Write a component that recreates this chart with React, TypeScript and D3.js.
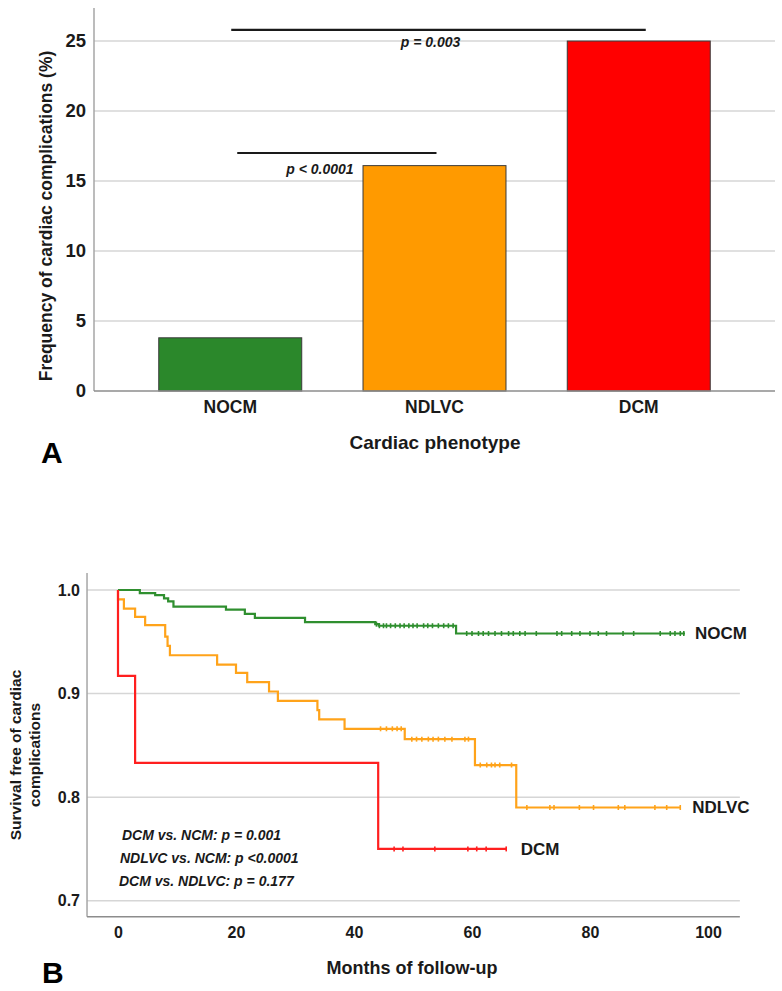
import { useEffect, useRef } from 'react';
import * as d3 from 'd3';

// Panel A: frequency of cardiac complications by phenotype
const phenotypes = ['NOCM', 'NDLVC', 'DCM'];
const frequencies = [3.8, 16.1, 25.0];
const barColors = ['#2b882b', '#ff9a00', '#ff0000'];
const freqTicks = [0, 5, 10, 15, 20, 25];
const bracketPairs: [string, string][] = [['NOCM', 'DCM'], ['NOCM', 'NDLVC']];
const bracketLevels = [25.8, 17.0];
const bracketLabels = ['p = 0.003', 'p < 0.0001'];

// Panel B: Kaplan-Meier steps [month, survival], last point = end of follow-up
const nocmSteps: [number, number][] = [
  [0, 1], [3.7, 0.997], [6.3, 0.995], [7.8, 0.992], [8.5, 0.989], [9.4, 0.984],
  [18.3, 0.981], [21.5, 0.977], [23.2, 0.973], [31.7, 0.969], [43.6, 0.967],
  [44.2, 0.9655], [57.3, 0.958], [96.1, 0.958],
];
const ndlvcSteps: [number, number][] = [
  [0, 1], [0, 0.991], [1.0, 0.982], [2.9, 0.974], [4.6, 0.966], [8.0, 0.955],
  [8.4, 0.946], [8.8, 0.937], [16.8, 0.928], [20.0, 0.92], [21.9, 0.911],
  [25.6, 0.902], [27.1, 0.893], [33.8, 0.884], [34.1, 0.875], [38.4, 0.866],
  [48.6, 0.856], [60.5, 0.831], [67.5, 0.79], [95.3, 0.79],
];
const dcmSteps: [number, number][] = [
  [0, 1], [0, 0.917], [2.9, 0.833], [44.1, 0.75], [65.9, 0.75],
];
const nocmCensored = [
  43.8, 44.3, 45, 45.5, 46.2, 47, 47.8, 48.5, 49.3, 50, 50.7, 51.8, 52.5, 53.3, 54.3,
  55.2, 56, 56.8, 59.1, 60.0, 61.1, 61.9, 62.8, 63.9, 65.0, 66.2, 67.0, 68.1, 69.0,
  70.9, 74.4, 75.2, 76.9, 78.3, 80.0, 81.4, 82.8, 85.6, 87.4, 91.9, 93.6, 94.4, 95.3, 95.9,
];
const ndlvcCensored = [
  44.5, 45.5, 46.5, 47.3, 48, 49.8, 50.6, 51.5, 52.6, 53.4, 54.3, 55.4, 56.6, 58.8, 59.4,
  61.4, 62.5, 63.3, 63.9, 64.7, 66.7, 69.3, 73.2, 73.9, 78.2, 80.6, 84.8, 85.9, 91.0, 93.0, 95.3,
];
const dcmCensored = [46.8, 48.3, 53.7, 59.3, 60.8, 62.4, 65.8];
const curveNames = ['NOCM', 'NDLVC', 'DCM'];
const curveColors = ['#2f8f2f', '#ffa31a', '#ff1f1f'];
const survTicks = [0.7, 0.8, 0.9, 1.0];
const monthTicks = [0, 20, 40, 60, 80, 100];
const pValueLines = [
  'DCM vs. NCM: p = 0.001',
  'NDLVC vs. NCM: p <0.0001',
  'DCM vs. NDLVC: p = 0.177',
];

const FONT = "'Liberation Sans', Arial, Helvetica, sans-serif";

export default function App() {
  const svgRef = useRef<SVGSVGElement>(null);

  useEffect(() => {
    if (!svgRef.current) return;
    const svg = d3.select(svgRef.current);
    svg.selectAll('*').remove();

    // ---------- Panel A ----------
    const gA = svg.append('g');
    const xA = d3.scaleBand<string>()
      .domain(phenotypes)
      .range([94, 775])
      .paddingInner(0.3)
      .paddingOuter(0.317);
    const yA = d3.scaleLinear().domain([0, 27.36]).range([391, 8]);

    // grid
    gA.append('g')
      .selectAll('line')
      .data(freqTicks.filter((t) => t > 0))
      .join('line')
      .attr('x1', 94).attr('x2', 775)
      .attr('y1', (d) => yA(d)).attr('y2', (d) => yA(d))
      .attr('stroke', '#d6d6d6')
      .attr('stroke-width', 1.5);

    // bars
    gA.selectAll('.bar')
      .data(phenotypes)
      .join('rect')
      .attr('class', 'bar')
      .attr('x', (d) => xA(d)!)
      .attr('y', (_, i) => yA(frequencies[i]))
      .attr('width', xA.bandwidth())
      .attr('height', (_, i) => yA(0) - yA(frequencies[i]))
      .attr('fill', (_, i) => barColors[i])
      .attr('stroke', '#3a3a3a')
      .attr('stroke-width', 1);

    // axes lines
    gA.append('line')
      .attr('x1', 94).attr('x2', 94)
      .attr('y1', yA.range()[1]).attr('y2', yA(0))
      .attr('stroke', '#a6a6a6').attr('stroke-width', 1.5);
    gA.append('line')
      .attr('x1', 94).attr('x2', 775)
      .attr('y1', yA(0)).attr('y2', yA(0))
      .attr('stroke', '#8c8c8c').attr('stroke-width', 1.5);

    const yAxisA = gA.append('g')
      .attr('transform', 'translate(94,0)')
      .call(d3.axisLeft(yA).tickValues(freqTicks).tickSize(0).tickPadding(8).tickFormat(d3.format('d')));
    yAxisA.select('.domain').remove();
    yAxisA.selectAll('text')
      .attr('font-family', FONT).attr('font-weight', 'bold')
      .attr('font-size', '18.5px').attr('fill', '#1a1a1a');

    const xAxisA = gA.append('g')
      .attr('transform', `translate(0,${yA(0)})`)
      .call(d3.axisBottom(xA).tickSize(0).tickPadding(10));
    xAxisA.select('.domain').remove();
    xAxisA.selectAll('text')
      .attr('font-family', FONT).attr('font-weight', 'bold')
      .attr('font-size', '17.5px').attr('fill', '#1a1a1a');

    // significance brackets
    const center = (c: string) => xA(c)! + xA.bandwidth() / 2;
    const bracketOffsets = [[1, 7], [7, 2]];
    const labelShift = [[-8, 17.5], [-17, 21]];
    bracketPairs.forEach(([a, b], i) => {
      const x1 = center(a) + bracketOffsets[i][0];
      const x2 = center(b) + bracketOffsets[i][1];
      const y = yA(bracketLevels[i]);
      gA.append('line')
        .attr('x1', x1).attr('x2', x2).attr('y1', y).attr('y2', y)
        .attr('stroke', '#1a1a1a').attr('stroke-width', 2.2);
      gA.append('text')
        .attr('x', (x1 + x2) / 2 + labelShift[i][0])
        .attr('y', y + labelShift[i][1])
        .attr('text-anchor', 'middle')
        .attr('font-family', FONT).attr('font-weight', 'bold').attr('font-style', 'italic')
        .attr('font-size', '14px').attr('fill', '#1a1a1a')
        .text(bracketLabels[i]);
    });

    gA.append('text')
      .attr('transform', 'translate(52,216) rotate(-90)')
      .attr('text-anchor', 'middle')
      .attr('font-family', FONT).attr('font-weight', 'bold')
      .attr('font-size', '17.5px').attr('fill', '#1a1a1a')
      .text('Frequency of cardiac complications (%)');
    gA.append('text')
      .attr('x', 435).attr('y', 449)
      .attr('text-anchor', 'middle')
      .attr('font-family', FONT).attr('font-weight', 'bold')
      .attr('font-size', '19px').attr('fill', '#1a1a1a')
      .text('Cardiac phenotype');
    gA.append('text')
      .attr('x', 41).attr('y', 463)
      .attr('font-family', FONT).attr('font-weight', 'bold')
      .attr('font-size', '30px').attr('fill', '#000')
      .text('A');

    // ---------- Panel B ----------
    const gB = svg.append('g');
    const xB = d3.scaleLinear().domain([0, 100]).range([118, 708]);
    const yB = d3.scaleLinear().domain([0.7, 1.0]).range([900.7, 590]);
    const xLeft = xB(-5.25);
    const xRight = xB(105.4);
    const yBottom = yB(0.6845);
    const yTop = yB(1.0165);

    gB.append('g')
      .selectAll('line')
      .data(survTicks)
      .join('line')
      .attr('x1', xLeft).attr('x2', xRight)
      .attr('y1', (d) => yB(d)).attr('y2', (d) => yB(d))
      .attr('stroke', '#d6d6d6').attr('stroke-width', 1.5);

    gB.append('line')
      .attr('x1', xLeft).attr('x2', xLeft)
      .attr('y1', yTop).attr('y2', yBottom)
      .attr('stroke', '#a6a6a6').attr('stroke-width', 1.5);
    gB.append('line')
      .attr('x1', xLeft).attr('x2', xRight)
      .attr('y1', yBottom).attr('y2', yBottom)
      .attr('stroke', '#8c8c8c').attr('stroke-width', 1.5);

    const yAxisB = gB.append('g')
      .attr('transform', `translate(${xLeft},0)`)
      .call(d3.axisLeft(yB).tickValues(survTicks).tickSize(0).tickPadding(7).tickFormat(d3.format('.1f')));
    yAxisB.select('.domain').remove();
    yAxisB.selectAll('text')
      .attr('font-family', FONT).attr('font-weight', 'bold')
      .attr('font-size', '16px').attr('fill', '#1a1a1a');

    const xAxisB = gB.append('g')
      .attr('transform', `translate(0,${yBottom})`)
      .call(d3.axisBottom(xB).tickValues(monthTicks).tickSize(0).tickPadding(10).tickFormat(d3.format('d')));
    xAxisB.select('.domain').remove();
    xAxisB.selectAll('text')
      .attr('font-family', FONT).attr('font-weight', 'bold')
      .attr('font-size', '16px').attr('fill', '#1a1a1a');

    const stepLine = d3.line<[number, number]>()
      .x((d) => xB(d[0]))
      .y((d) => yB(d[1]))
      .curve(d3.curveStepAfter);

    const allSteps = [nocmSteps, ndlvcSteps, dcmSteps];
    const allCensored = [nocmCensored, ndlvcCensored, dcmCensored];
    const survAt = (steps: [number, number][], t: number) => {
      let s = steps[0][1];
      steps.forEach(([m, v]) => { if (m <= t) s = v; });
      return s;
    };

    allSteps.forEach((steps, i) => {
      gB.append('path')
        .datum(steps)
        .attr('fill', 'none')
        .attr('stroke', curveColors[i])
        .attr('stroke-width', 2.2)
        .attr('d', stepLine);
      gB.append('g')
        .selectAll('line')
        .data(allCensored[i])
        .join('line')
        .attr('x1', (d) => xB(d)).attr('x2', (d) => xB(d))
        .attr('y1', (d) => yB(survAt(steps, d)) - 2.5)
        .attr('y2', (d) => yB(survAt(steps, d)) + 2.5)
        .attr('stroke', curveColors[i])
        .attr('stroke-width', 1.6);
    });

    // curve labels
    const labelDx = [10, 12, 14];
    const labelDy = [6, 6, 6];
    allSteps.forEach((steps, i) => {
      const last = steps[steps.length - 1];
      gB.append('text')
        .attr('x', xB(last[0]) + labelDx[i])
        .attr('y', yB(last[1]) + labelDy[i])
        .attr('font-family', FONT).attr('font-weight', 'bold')
        .attr('font-size', '17px').attr('fill', '#1a1a1a')
        .text(curveNames[i]);
    });

    gB.append('g')
      .selectAll('text')
      .data(pValueLines)
      .join('text')
      .attr('x', (_, i) => [122, 120, 119][i])
      .attr('y', (_, i) => 840 + i * 23)
      .attr('font-family', FONT).attr('font-weight', 'bold').attr('font-style', 'italic')
      .attr('font-size', '14px').attr('fill', '#1a1a1a')
      .text((d) => d);

    const yLabel = gB.append('text')
      .attr('transform', 'translate(0,755) rotate(-90)')
      .attr('text-anchor', 'middle')
      .attr('font-family', FONT).attr('font-weight', 'bold')
      .attr('font-size', '15.5px').attr('fill', '#1a1a1a');
    yLabel.append('tspan').attr('x', 0).attr('y', 21).text('Survival free of cardiac');
    yLabel.append('tspan').attr('x', 0).attr('y', 40).text('complications');

    gB.append('text')
      .attr('x', 412).attr('y', 974)
      .attr('text-anchor', 'middle')
      .attr('font-family', FONT).attr('font-weight', 'bold')
      .attr('font-size', '18px').attr('fill', '#1a1a1a')
      .text('Months of follow-up');
    gB.append('text')
      .attr('x', 42).attr('y', 983)
      .attr('font-family', FONT).attr('font-weight', 'bold')
      .attr('font-size', '30px').attr('fill', '#000')
      .text('B');
  }, []);

  return (
    <svg
      ref={svgRef}
      width={782}
      height={991}
      style={{ position: 'absolute', left: 0, top: 0, background: '#fff' }}
    />
  );
}
